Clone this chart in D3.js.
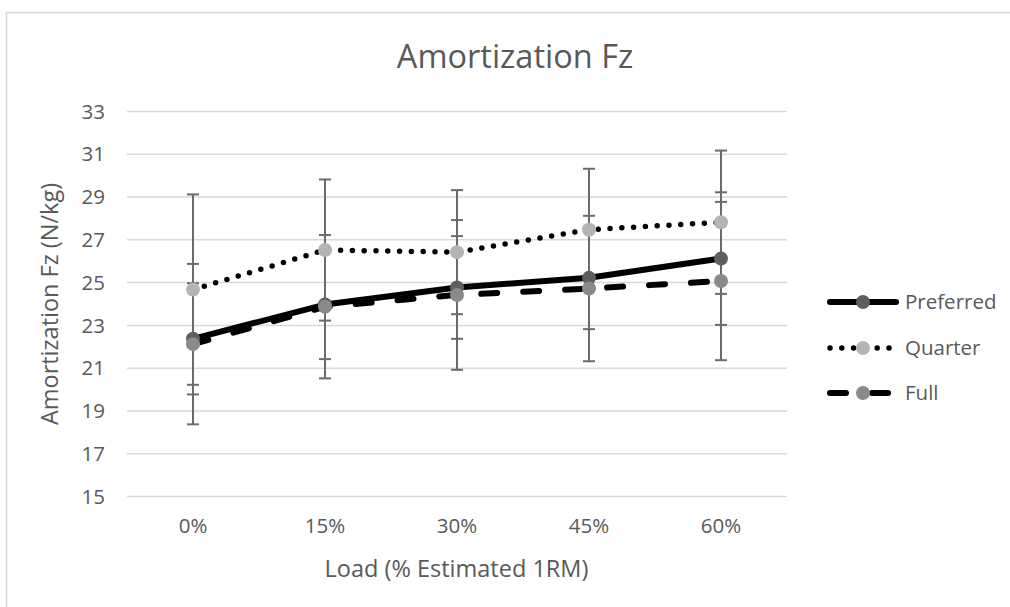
<!DOCTYPE html>
<html>
<head>
<meta charset="utf-8">
<script src="https://cdn.jsdelivr.net/npm/d3@7"></script>
<style>
  html, body { margin: 0; padding: 0; background: #fff; }
  svg { display: block; font-family: "Open Sans", "Noto Sans", sans-serif; }
</style>
</head>
<body>
<svg id="chart" width="1010" height="607"></svg>
<script>
const categories = ["0%", "15%", "30%", "45%", "60%"];
const seriesNames = ["Preferred", "Quarter", "Full"];
const preferredValues = [22.35, 23.95, 24.75, 25.2, 26.1];
const quarterValues = [24.65, 26.5, 26.4, 27.45, 27.8];
const fullValues = [22.1, 23.85, 24.4, 24.7, 25.05];
const preferredErrors = [2.6, 2.55, 2.4, 2.4, 3.1];
const quarterErrors = [4.45, 3.3, 2.9, 2.85, 3.35];
const fullErrors = [3.75, 3.35, 3.5, 3.4, 3.7];
const yTicks = [15, 17, 19, 21, 23, 25, 27, 29, 31, 33];

const series = [
  { name: seriesNames[0], values: preferredValues, errors: preferredErrors, color: "#5f5f5f", dash: null, cap: "round", width: 6 },
  { name: seriesNames[1], values: quarterValues, errors: quarterErrors, color: "#b4b4b4", dash: "0,11.8", cap: "round", width: 5.5 },
  { name: seriesNames[2], values: fullValues, errors: fullErrors, color: "#8a8a8a", dash: "16,26", cap: "round", width: 6 }
];

const svg = d3.select("#chart");
const textColor = "#595959";

// outer chart border
svg.append("rect").attr("x", 6.5).attr("y", 12.5).attr("width", 1100).attr("height", 700)
  .attr("fill", "#fff").attr("stroke", "#d9d9d9").attr("stroke-width", 1.5);

const plot = { left: 127, right: 787, top: 111, bottom: 496 };

const x = d3.scaleBand().domain(categories).range([plot.left, plot.right]);
const y = d3.scaleLinear().domain([15, 33]).range([plot.bottom, plot.top]);
const cx = c => x(c) + x.bandwidth() / 2;

// gridlines
const yAxis = d3.axisLeft(y).tickValues(yTicks).tickSize(-(plot.right - plot.left)).tickPadding(22).tickFormat(d3.format("d"));
const gy = svg.append("g").attr("transform", `translate(${plot.left},0)`).call(yAxis);
gy.select(".domain").remove();
gy.selectAll(".tick line").attr("stroke", "#d9d9d9").attr("stroke-width", 1.5);
gy.selectAll(".tick text").attr("fill", textColor).attr("font-size", 20.5).attr("font-family", "Open Sans").attr("dy", "0.35em");

// x axis labels
const xAxis = d3.axisBottom(x).tickSize(0).tickPadding(0);
const gx = svg.append("g").attr("transform", `translate(0,${plot.bottom})`).call(xAxis);
gx.select(".domain").remove();
gx.selectAll(".tick text").attr("fill", textColor).attr("font-size", 20.5).attr("font-family", "Open Sans").attr("dy", null).attr("y", 37);

// error bars
const eb = svg.append("g");
series.forEach(s => {
  categories.forEach((c, i) => {
    const v = s.values[i], e = s.errors[i];
    const xx = cx(c);
    eb.append("line").attr("x1", xx).attr("x2", xx).attr("y1", y(v + e)).attr("y2", y(v - e))
      .attr("stroke", "#6b6b6b").attr("stroke-width", 2);
    [v + e, v - e].forEach(t => {
      eb.append("line").attr("x1", xx - 6).attr("x2", xx + 6).attr("y1", y(t)).attr("y2", y(t))
        .attr("stroke", "#6b6b6b").attr("stroke-width", 2);
    });
  });
});

// lines
const line = d3.line().x((d, i) => cx(categories[i])).y(d => y(d));
series.forEach(s => {
  const p = svg.append("path").datum(s.values).attr("d", line)
    .attr("fill", "none").attr("stroke", "#000").attr("stroke-width", s.width)
    .attr("stroke-linecap", s.cap).attr("stroke-linejoin", "round");
  if (s.dash) p.attr("stroke-dasharray", s.dash);
});

// markers
series.forEach(s => {
  svg.append("g").selectAll("circle").data(s.values).join("circle")
    .attr("cx", (d, i) => cx(categories[i])).attr("cy", d => y(d)).attr("r", 7)
    .attr("fill", s.color);
});

// title
svg.append("text").attr("x", 515).attr("y", 68).attr("text-anchor", "middle")
  .attr("fill", textColor).attr("font-size", 32.5).text("Amortization Fz");

// axis titles
svg.append("text").attr("x", 456.5).attr("y", 577).attr("text-anchor", "middle")
  .attr("fill", textColor).attr("font-size", 23.5).text("Load (% Estimated 1RM)");
svg.append("text").attr("transform", "translate(58,304) rotate(-90)").attr("text-anchor", "middle")
  .attr("fill", textColor).attr("font-size", 23.5).text("Amortization Fz (N/kg)");

// legend
const legendY = [302, 348, 393];
series.forEach((s, i) => {
  const g = svg.append("g").attr("transform", `translate(0,${legendY[i]})`);
  const l = g.append("line").attr("x1", 830).attr("x2", 896).attr("y1", 0).attr("y2", 0)
    .attr("stroke", "#000").attr("stroke-width", s.width).attr("stroke-linecap", s.cap);
  if (s.dash) l.attr("stroke-dasharray", s.dash);
  g.append("circle").attr("cx", 863).attr("cy", 0).attr("r", 7).attr("fill", s.color);
  g.append("text").attr("x", 905).attr("y", 0).attr("dy", "0.35em").attr("fill", textColor)
    .attr("font-size", 20.5).text(s.name);
});
</script>
</body>
</html>
